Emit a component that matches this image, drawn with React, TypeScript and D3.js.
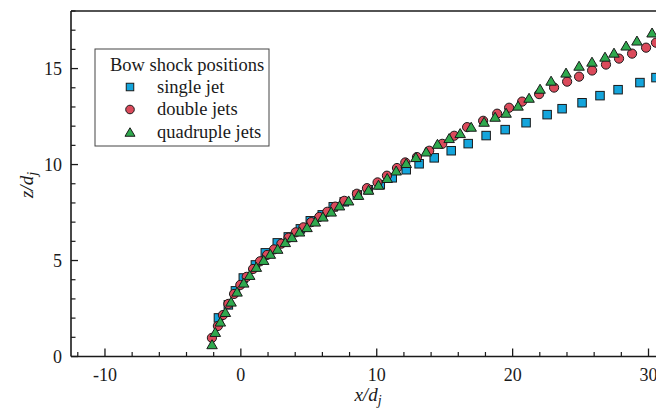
import React from 'react';
import * as d3 from 'd3';

const singleX = [-1.65, -0.92, -0.40, 0.18, 1.07, 1.80, 2.68, 3.49, 4.38, 5.11, 5.99, 6.80, 7.61, 8.57, 9.38, 10.26, 11.14, 12.17, 13.12, 14.23, 15.48, 16.73, 18.05, 19.45, 20.99, 22.54, 23.64, 25.11, 26.43, 27.76, 29.37, 30.55];
const singleZ = [2.01, 2.69, 3.42, 4.09, 4.77, 5.40, 5.92, 6.23, 6.65, 7.07, 7.38, 7.80, 8.06, 8.42, 8.69, 8.95, 9.31, 9.73, 10.04, 10.35, 10.72, 11.09, 11.51, 11.82, 12.18, 12.60, 12.91, 13.22, 13.59, 13.90, 14.27, 14.53];

const doubleX = [-2.13, -1.69, -1.32, -0.92, -0.50, -0.04, 0.43, 0.90, 1.41, 1.93, 2.44, 2.98, 3.51, 4.04, 4.60, 5.18, 5.77, 6.36, 6.95, 7.61, 8.54, 9.28, 10.06, 10.75, 11.49, 12.10, 12.96, 13.86, 14.82, 15.70, 16.65, 17.83, 18.86, 19.74, 20.70, 21.95, 23.05, 24.01, 24.89, 25.85, 26.87, 27.83, 28.79, 29.82, 30.55];
const doubleZ = [0.97, 1.59, 2.16, 2.74, 3.26, 3.73, 4.15, 4.56, 4.96, 5.29, 5.58, 5.88, 6.19, 6.47, 6.73, 7.00, 7.27, 7.54, 7.81, 8.11, 8.48, 8.77, 9.07, 9.42, 9.82, 10.11, 10.39, 10.72, 11.08, 11.50, 11.95, 12.28, 12.65, 12.96, 13.28, 13.67, 14.01, 14.32, 14.58, 14.90, 15.21, 15.52, 15.78, 16.09, 16.35];

const quadX = [-2.12, -1.88, -1.51, -1.14, -0.72, -0.28, 0.21, 0.65, 1.14, 1.68, 2.17, 2.71, 3.27, 3.76, 4.32, 4.87, 5.48, 6.04, 6.65, 7.26, 7.93, 8.66, 9.40, 10.13, 10.77, 11.43, 12.17, 12.88, 13.64, 14.47, 15.33, 16.14, 16.95, 17.90, 18.71, 19.52, 20.40, 21.21, 22.02, 22.83, 23.93, 24.89, 25.84, 26.80, 27.46, 28.35, 29.15, 30.26];
const quadZ = [0.64, 1.28, 1.82, 2.32, 2.86, 3.38, 3.85, 4.25, 4.67, 5.03, 5.35, 5.61, 5.96, 6.22, 6.51, 6.74, 7.03, 7.29, 7.55, 7.87, 8.13, 8.42, 8.69, 8.95, 9.30, 9.69, 10.08, 10.39, 10.68, 11.08, 11.38, 11.64, 11.97, 12.23, 12.49, 12.70, 13.07, 13.48, 13.95, 14.37, 14.79, 15.15, 15.36, 15.62, 15.83, 16.20, 16.46, 16.88];

const xMajorTicks = [-10, 0, 10, 20, 30];
const zMajorTicks = [0, 5, 10, 15];
const legendTitle = 'Bow shock positions';
const seriesNames = ['single jet', 'double jets', 'quadruple jets'];

const BLUE = '#14a5dc';
const RED = '#db4a5b';
const GREEN = '#2fa94e';
const INK = '#1a1a1a';
const FONT = '"Liberation Serif", "Times New Roman", serif';

function Square({ cx, cy, s }: { cx: number; cy: number; s: number }) {
  return <rect x={cx - s / 2} y={cy - s / 2} width={s} height={s} fill={BLUE} stroke={INK} strokeWidth={1} />;
}
function Circle({ cx, cy, r }: { cx: number; cy: number; r: number }) {
  return <circle cx={cx} cy={cy} r={r} fill={RED} stroke={INK} strokeWidth={1} />;
}
function Tri({ cx, cy, w, h }: { cx: number; cy: number; w: number; h: number }) {
  const d = `M${cx},${cy - h / 2}L${cx + w / 2},${cy + h / 2}L${cx - w / 2},${cy + h / 2}Z`;
  return <path d={d} fill={GREEN} stroke={INK} strokeWidth={1} strokeLinejoin="miter" />;
}

export default function App() {
  const W = 656, H = 412;
  const left = 71, right = 665.5, top = 11, bottom = 356.5;
  const x = d3.scaleLinear().domain([-12.5, 31.25]).range([left, right]);
  const y = d3.scaleLinear().domain([0, 18]).range([bottom, top]);

  const xMinor = d3.range(-12, 32, 2).filter((v) => !xMajorTicks.includes(v));
  const zMinor = d3.range(0, 19, 1).filter((v) => !zMajorTicks.includes(v));

  return (
    <div style={{ position: 'fixed', left: 0, top: 0, width: W, height: H, background: '#fff' }}>
      <svg width={W} height={H} style={{ display: 'block', fontFamily: FONT }}>
        <defs>
          <clipPath id="plotclip">
            <rect x={left} y={top - 6} width={right - left + 10} height={bottom - top + 12} />
          </clipPath>
        </defs>
        <rect x={0} y={0} width={W} height={H} fill="#fff" />

        {/* axes frame */}
        <line x1={left} x2={right} y1={top} y2={top} stroke={INK} strokeWidth={1.6} />
        <line x1={left} x2={left} y1={top} y2={bottom} stroke={INK} strokeWidth={1.6} />
        <line x1={left} x2={right} y1={bottom} y2={bottom} stroke={INK} strokeWidth={1.6} />

        {/* x ticks */}
        {xMajorTicks.map((t) => (
          <g key={'xm' + t}>
            <line x1={x(t)} x2={x(t)} y1={bottom} y2={bottom - 8} stroke={INK} strokeWidth={1.3} />
            <text x={x(t)} y={381} textAnchor="middle" fontSize={18} fill={INK}>{t}</text>
          </g>
        ))}
        {xMinor.map((t) => (
          <line key={'xn' + t} x1={x(t)} x2={x(t)} y1={bottom} y2={bottom - 4.5} stroke={INK} strokeWidth={1.2} />
        ))}

        {/* z ticks */}
        {zMajorTicks.map((t) => (
          <g key={'zm' + t}>
            <line x1={left} x2={left + 7} y1={y(t)} y2={y(t)} stroke={INK} strokeWidth={1.3} />
            <text x={62} y={y(t)} dy="0.35em" textAnchor="end" fontSize={18} fill={INK}>{t}</text>
          </g>
        ))}
        {zMinor.map((t) => (
          <line key={'zn' + t} x1={left} x2={left + 4.5} y1={y(t)} y2={y(t)} stroke={INK} strokeWidth={1.2} />
        ))}

        {/* axis titles */}
        <text x={368} y={401} textAnchor="middle" fontSize={19} fontStyle="italic" fill={INK}>
          x/d<tspan dy={4} fontSize={14}>j</tspan>
        </text>
        <g transform="translate(33,185) rotate(-90)">
          <text x={0} y={0} textAnchor="middle" fontSize={19} fontStyle="italic" fill={INK}>
            z/d<tspan dy={4} fontSize={14}>j</tspan>
          </text>
        </g>

        {/* data */}
        <g clipPath="url(#plotclip)">
          {singleX.map((v, i) => (
            <Square key={'s' + i} cx={x(v)} cy={y(singleZ[i])} s={8.5} />
          ))}
          {doubleX.map((v, i) => (
            <Circle key={'d' + i} cx={x(v)} cy={y(doubleZ[i])} r={4.6} />
          ))}
          {quadX.map((v, i) => (
            <Tri key={'q' + i} cx={x(v)} cy={y(quadZ[i])} w={10.5} h={9} />
          ))}
        </g>

        {/* legend */}
        <rect x={95} y={49} width={174} height={97} fill="#fff" stroke="#444" strokeWidth={1} />
        <text x={110} y={71} fontSize={18.5} fill={INK}>{legendTitle}</text>
        <Square cx={130} cy={87} s={7.5} />
        <text x={157} y={92.5} fontSize={18.5} fill={INK}>{seriesNames[0]}</text>
        <Circle cx={130} cy={109.5} r={4.3} />
        <text x={157} y={115} fontSize={18.5} fill={INK}>{seriesNames[1]}</text>
        <Tri cx={130} cy={132} w={10} h={8.5} />
        <text x={157} y={138} fontSize={18.5} fill={INK}>{seriesNames[2]}</text>
      </svg>
    </div>
  );
}
